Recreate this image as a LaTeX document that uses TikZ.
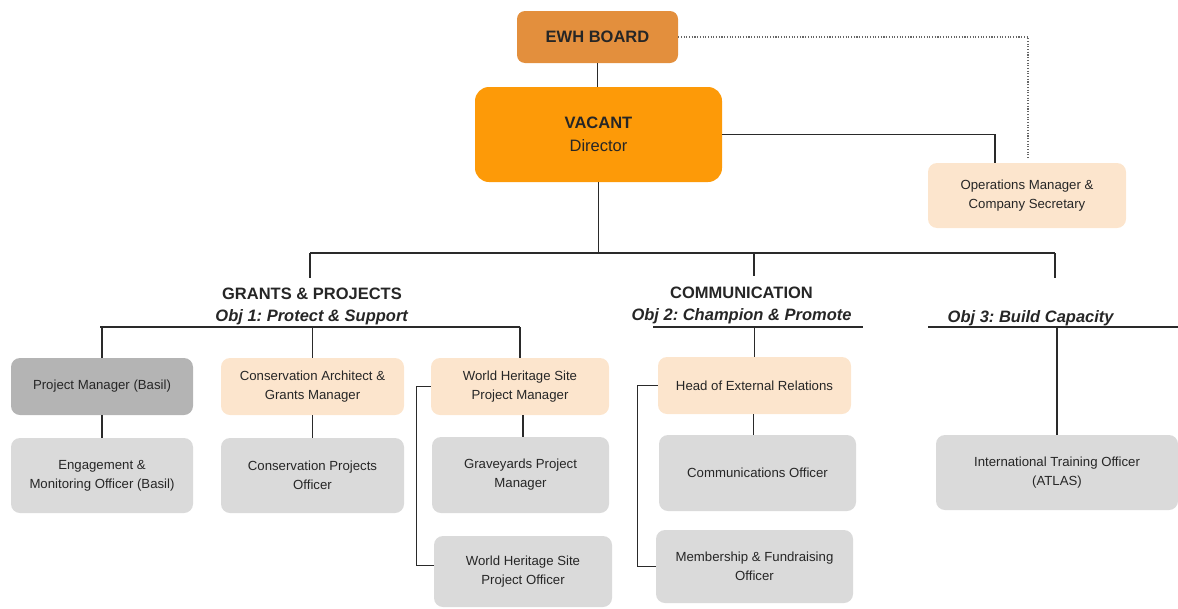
\documentclass[tikz,border=0pt]{standalone}
\usepackage{fontspec}
\setmainfont{Liberation Sans}
\frenchspacing

\definecolor{boardorange}{HTML}{E38F3D}
\definecolor{dirorange}{HTML}{FD9A08}
\definecolor{peach}{HTML}{FCE5CD}
\definecolor{midgrey}{HTML}{B4B4B4}
\definecolor{lightgrey}{HTML}{DADADA}
\definecolor{ink}{HTML}{262626}
\definecolor{wire}{HTML}{2A2A2A}

\tikzset{
  role/.style={rectangle, rounded corners=9pt, inner sep=0pt, align=center,
    text=ink, font=\fontsize{13.2}{19}\selectfont},
  peachbox/.style={role, fill=peach},
  greybox/.style={role, fill=lightgrey},
  darkgreybox/.style={role, fill=midgrey},
  heading/.style={inner sep=0pt, align=center, text=ink,
    font=\fontsize{16.5}{22}\selectfont\bfseries},
  wireline/.style={draw=wire, line width=1.35pt},
  dotline/.style={draw=black!60, line width=1.2pt, dash pattern=on 1.1pt off 1.6pt},
}

\begin{document}
\begin{tikzpicture}[x=1pt, y=-1pt]
\useasboundingbox (0,0) rectangle (1178,608);

% top of the organisation
\node[role, fill=boardorange, rounded corners=8pt, minimum width=161pt, minimum height=52pt,
      font=\fontsize{16.5}{22}\selectfont\bfseries] (board) at (597.5,37) {EWH BOARD};
\node[role, fill=dirorange, rounded corners=14pt, minimum width=247pt, minimum height=95pt,
      font=\fontsize{16.5}{23}\selectfont] (dir) at (598.5,134.5) {\textbf{VACANT}\\Director};
\node[peachbox, minimum width=198pt, minimum height=65pt] (ops) at (1027,195.5)
      {Operations Manager \&\\Company Secretary};

% objective headings
\node[heading] (gp) at (312,306) {GRANTS \& PROJECTS\\\textit{Obj 1: Protect \& Support}};
\node[heading] (comm) at (741.5,305) {COMMUNICATION\\\textit{Obj 2: Champion \& Promote}};
\node[heading] (obj3) at (1031,318) {\textit{Obj 3: Build Capacity}};

% first row of roles
\node[darkgreybox, minimum width=182pt, minimum height=57pt] (pmb) at (102,386.5)
      {Project Manager (Basil)};
\node[peachbox, minimum width=183pt, minimum height=57pt] (cagm) at (312.5,386.5)
      {Conservation Architect \&\\Grants Manager};
\node[peachbox, minimum width=178pt, minimum height=57pt] (whspm) at (520,386.5)
      {World Heritage Site\\Project Manager};
\node[peachbox, minimum width=193pt, minimum height=57pt] (her) at (754.5,385.5)
      {Head of External Relations};

% second row of roles
\node[greybox, minimum width=182pt, minimum height=75pt] (emo) at (102,475.5)
      {Engagement \&\\Monitoring Officer (Basil)};
\node[greybox, minimum width=183pt, minimum height=75pt] (cpo) at (312.5,475.5)
      {Conservation Projects\\Officer};
\node[greybox, minimum width=177pt, minimum height=76pt] (gpm) at (520.5,475)
      {Graveyards Project\\Manager};
\node[greybox, minimum width=197pt, minimum height=76pt] (co) at (757.5,473)
      {Communications Officer};
\node[greybox, minimum width=242pt, minimum height=75pt] (ito) at (1057,472.5)
      {International Training Officer\\(ATLAS)};

% third row of roles
\node[greybox, minimum width=178pt, minimum height=71pt] (whspo) at (523,571.5)
      {World Heritage Site\\Project Officer};
\node[greybox, minimum width=197pt, minimum height=73pt] (mfo) at (754.5,566.5)
      {Membership \& Fundraising\\Officer};

% junction points of the reporting lines
\coordinate (busC) at (598.5,253);
\coordinate (busL) at (310,253);
\coordinate (busM) at (754,253);
\coordinate (busR) at (1055,253);
\coordinate (gpTop) at (310,278);
\coordinate (commTop) at (754,276);
\coordinate (obj3Top) at (1055,278);
\coordinate (gpL) at (100,327);
\coordinate (gpR) at (520,327);
\coordinate (commL) at (653,327);
\coordinate (commR) at (863,327);
\coordinate (obj3L) at (928,327);
\coordinate (obj3R) at (1178,327);
\coordinate (dotEnd) at (1028,158);

% board and director
\draw[wireline] (board.south) -- (board.south |- dir.north);
\draw[dotline] (board.east) -| (dotEnd);
\draw[wireline] (dir.east) -| ([xshift=-32pt]ops.north);

% main bus to the three objectives
\draw[wireline] (dir.south) -- (busC);
\draw[wireline] (busL) -- (busR);
\draw[wireline] (busL) -- (gpTop);
\draw[wireline] (busM) -- (commTop);
\draw[wireline] (busR) -- (obj3Top);

% grants & projects
\draw[wireline] (gpL) -- (gpR);
\draw[wireline] (gpL -| pmb.north) -- (pmb.north);
\draw[wireline] (gpL -| cagm.north) -- (cagm.north);
\draw[wireline] (gpR) -- (whspm.north);
\draw[wireline] (pmb.south) -- (emo.north);
\draw[wireline] (cagm.south) -- (cagm.south |- cpo.north);
\draw[wireline] ([xshift=3pt]whspm.south) -- ([xshift=3pt]whspm.south |- gpm.north);
\draw[wireline] (whspm.west) -- ++(-14,0) |- ([yshift=6pt]whspo.west);

% communication
\draw[wireline] (commL) -- (commR);
\draw[wireline] (commL -| her.north) -- (her.north);
\draw[wireline] ([xshift=-1pt]her.south) -- ([xshift=-1pt]her.south |- co.north);
\draw[wireline] (her.west) -- ++(-20,0) |- (mfo.west);

% build capacity
\draw[wireline] (obj3L) -- (obj3R);
\draw[wireline] (obj3L -| ito.north) -- (ito.north);
\end{tikzpicture}
\end{document}
